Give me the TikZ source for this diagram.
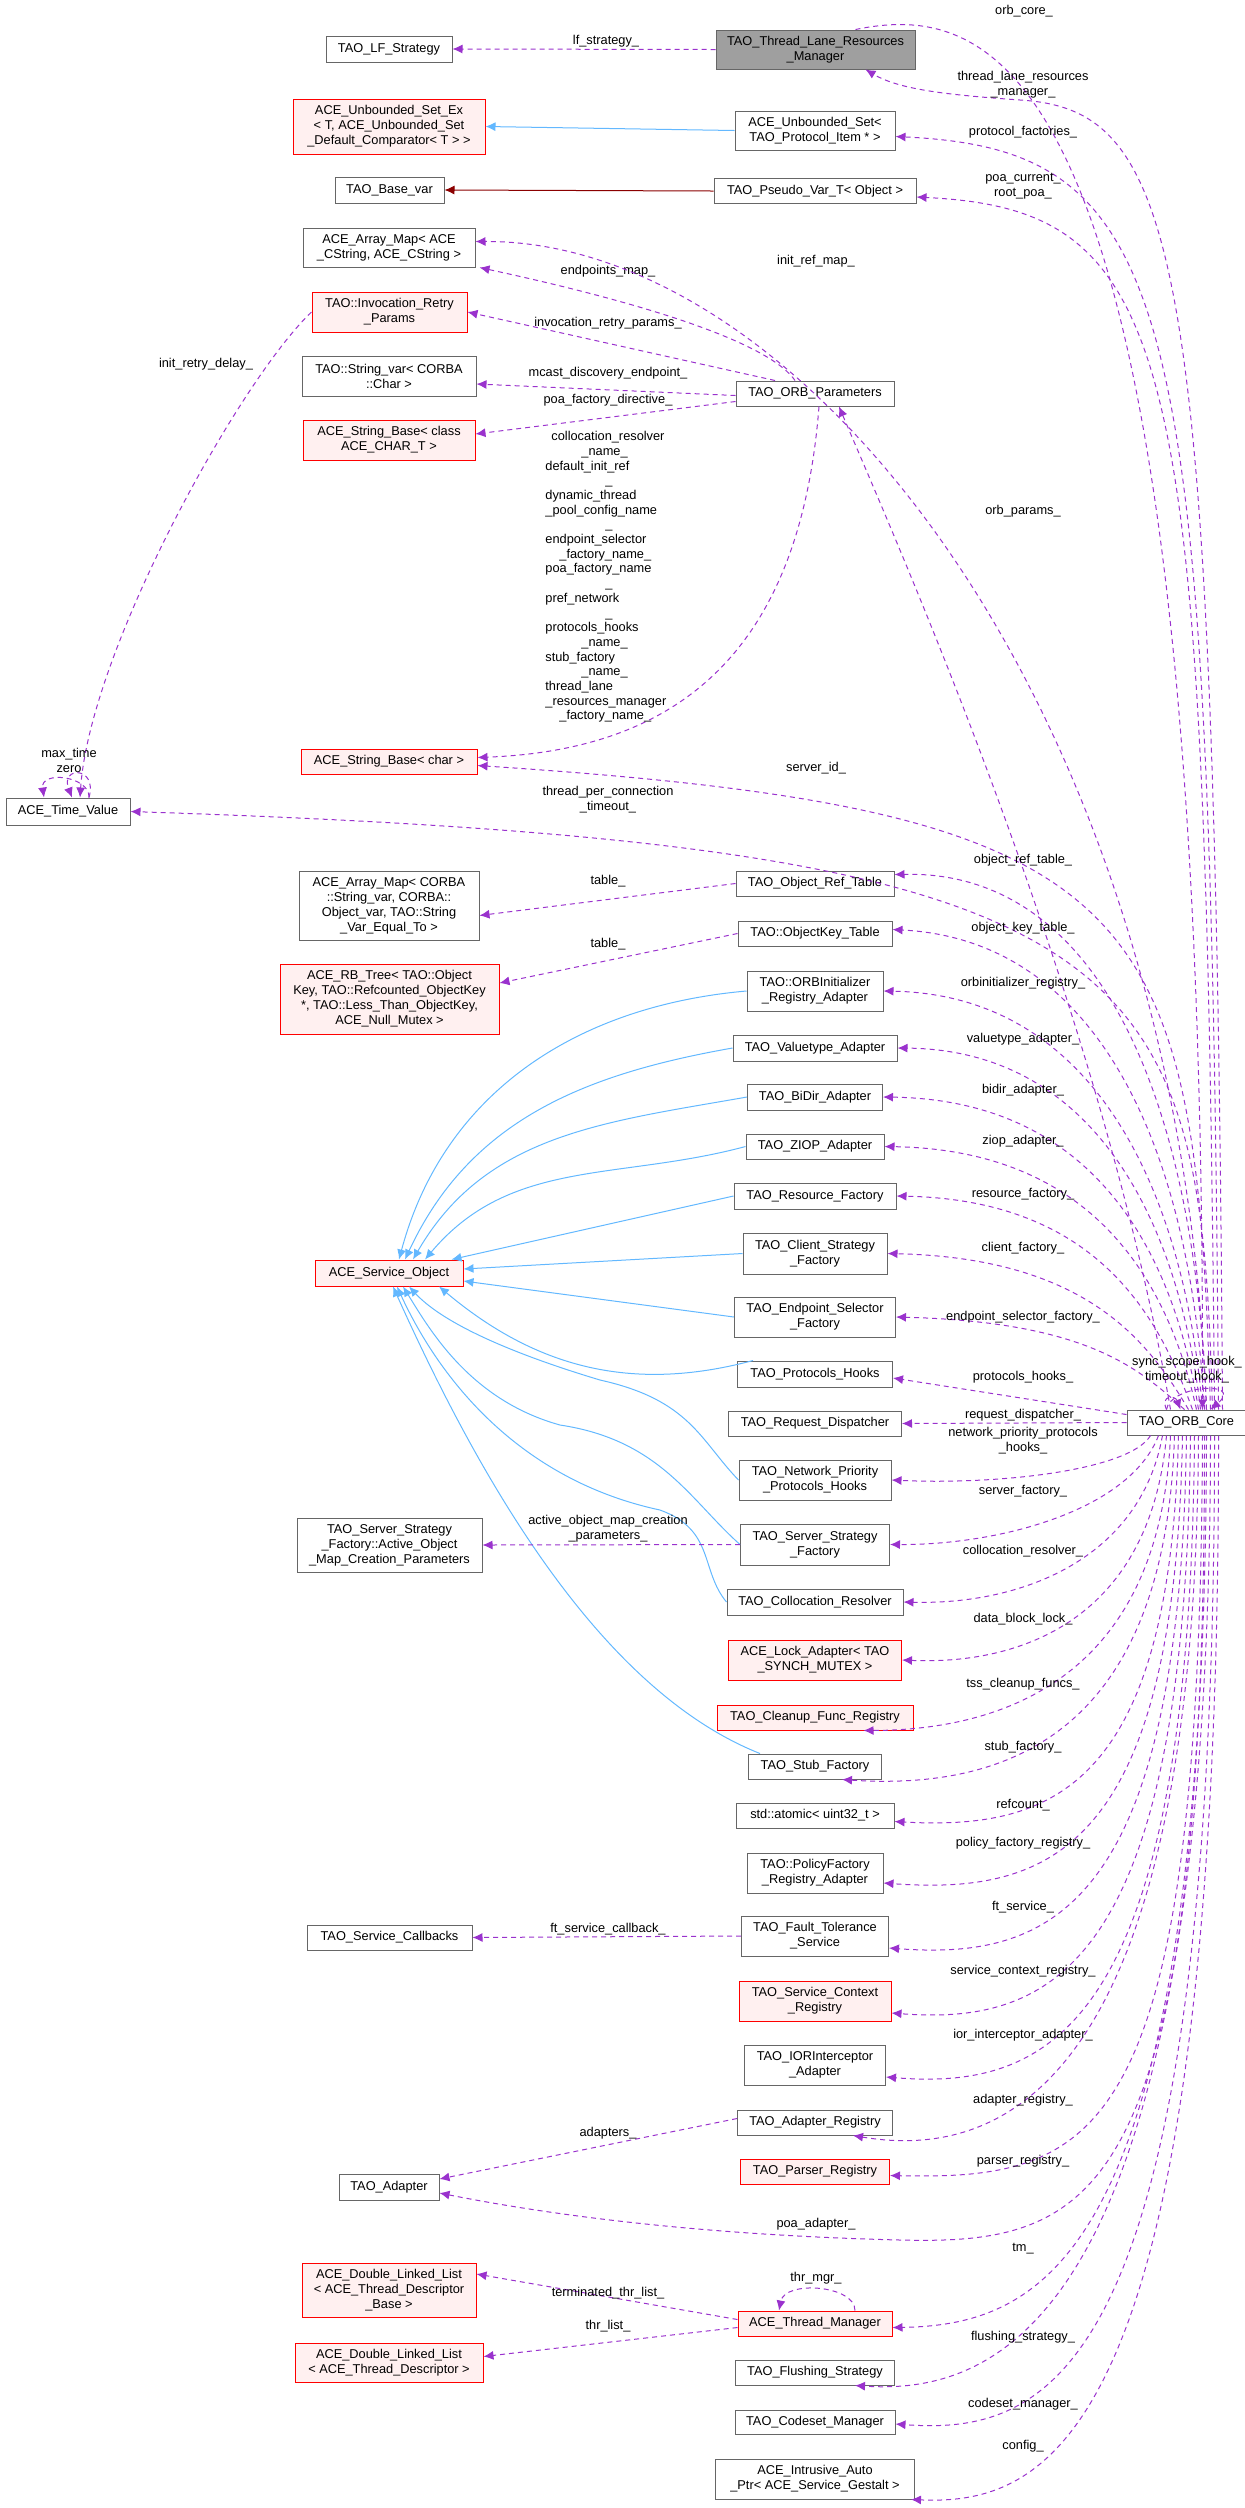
\documentclass[tikz,border=0pt]{standalone}
\usepackage{fontspec}
\setmainfont{Liberation Sans}
\usetikzlibrary{arrows.meta}
\definecolor{purp}{HTML}{9A32CD}
\definecolor{bl}{HTML}{63B8FF}
\definecolor{dred}{HTML}{8B0000}
\definecolor{gr6}{HTML}{666666}
\newcommand\mkbox[7]{\node[#6, minimum width=#4*0.5pt, minimum height=#5*0.5pt] (#1) at (#2,#3) {#7};}
\begin{document}
\begin{tikzpicture}[x=0.5pt,y=-0.5pt,
 box/.style={draw=gr6, line width=0.5pt, inner sep=0pt, align=center, font=\fontsize{6.4}{7.5}\selectfont, fill=white},
 rbox/.style={box, draw=red, fill=red!6},
 gbox/.style={box, fill=gray!75},
 dep/.style={draw=purp, line width=0.5pt, dash pattern=on 2.5pt off 2pt, -{Latex[length=5pt,width=4.5pt]}},
 inh/.style={draw=bl, line width=0.5pt, -{Latex[length=5pt,width=4.5pt]}},
 lbl/.style={font=\fontsize{6.4}{7.5}\selectfont, align=center, inner sep=0pt, text=black}]
\useasboundingbox (0,0) rectangle (1245,2508);
\mkbox{tlrm}{815.5}{49.5}{199}{39}{gbox}{TAO\_Thread\_Lane\_Resources\\\_Manager}
\mkbox{lf}{389}{49}{126}{26}{box}{TAO\_LF\_Strategy}
\mkbox{usex}{389}{126.5}{192}{55}{rbox}{ACE\_Unbounded\_Set\_Ex\\< T, ACE\_Unbounded\_Set\\\_Default\_Comparator< T > >}
\mkbox{us}{815}{130.5}{160}{39}{box}{ACE\_Unbounded\_Set<\\TAO\_Protocol\_Item * >}
\mkbox{basevar}{389.5}{190}{109}{26}{box}{TAO\_Base\_var}
\mkbox{pseudo}{815}{191}{202}{25}{box}{TAO\_Pseudo\_Var\_T< Object >}
\mkbox{amap1}{389}{247.5}{172}{39}{box}{ACE\_Array\_Map< ACE\\\_CString, ACE\_CString >}
\mkbox{irp}{389.5}{312}{155}{40}{rbox}{TAO::Invocation\_Retry\\\_Params}
\mkbox{svar}{389}{376}{174}{40}{box}{TAO::String\_var< CORBA\\::Char >}
\mkbox{orbp}{815}{393.5}{158}{25}{box}{TAO\_ORB\_Parameters}
\mkbox{sbclass}{389}{440}{172}{40}{rbox}{ACE\_String\_Base< class\\ACE\_CHAR\_T >}
\mkbox{sbchar}{389}{761.5}{176}{25}{rbox}{ACE\_String\_Base< char >}
\mkbox{tv}{68}{811.5}{124}{27}{box}{ACE\_Time\_Value}
\mkbox{amap2}{389}{905.5}{180}{69}{box}{ACE\_Array\_Map< CORBA\\::String\_var, CORBA::\\Object\_var, TAO::String\\\_Var\_Equal\_To >}
\mkbox{ort}{815}{883.5}{158}{25}{box}{TAO\_Object\_Ref\_Table}
\mkbox{okt}{815}{933.5}{154}{25}{box}{TAO::ObjectKey\_Table}
\mkbox{rbt}{389.5}{999}{219}{70}{rbox}{ACE\_RB\_Tree< TAO::Object\\Key, TAO::Refcounted\_ObjectKey\\*, TAO::Less\_Than\_ObjectKey,\\ACE\_Null\_Mutex >}
\mkbox{orbi}{815}{991}{136}{40}{box}{TAO::ORBInitializer\\\_Registry\_Adapter}
\mkbox{vt}{815}{1048}{164}{26}{box}{TAO\_Valuetype\_Adapter}
\mkbox{bidir}{815}{1097}{135}{26}{box}{TAO\_BiDir\_Adapter}
\mkbox{ziop}{815}{1146.5}{138}{25}{box}{TAO\_ZIOP\_Adapter}
\mkbox{rf}{815}{1196}{162}{26}{box}{TAO\_Resource\_Factory}
\mkbox{csf}{815}{1253.5}{144}{41}{box}{TAO\_Client\_Strategy\\\_Factory}
\mkbox{so}{389}{1273}{148}{26}{rbox}{ACE\_Service\_Object}
\mkbox{esf}{815}{1317}{161}{40}{box}{TAO\_Endpoint\_Selector\\\_Factory}
\mkbox{ph}{815}{1374}{155}{26}{box}{TAO\_Protocols\_Hooks}
\mkbox{rd}{815}{1423.5}{173}{25}{box}{TAO\_Request\_Dispatcher}
\mkbox{core}{1186.5}{1422.5}{119}{25}{box}{TAO\_ORB\_Core}
\mkbox{npph}{815}{1480}{152}{40}{box}{TAO\_Network\_Priority\\\_Protocols\_Hooks}
\mkbox{ssf}{815}{1544.5}{149}{41}{box}{TAO\_Server\_Strategy\\\_Factory}
\mkbox{aomp}{389.5}{1545}{185}{54}{box}{TAO\_Server\_Strategy\\\_Factory::Active\_Object\\\_Map\_Creation\_Parameters}
\mkbox{cr}{815}{1602}{176}{26}{box}{TAO\_Collocation\_Resolver}
\mkbox{la}{815}{1660}{173}{40}{rbox}{ACE\_Lock\_Adapter< TAO\\\_SYNCH\_MUTEX >}
\mkbox{cfr}{815}{1717.5}{196}{25}{rbox}{TAO\_Cleanup\_Func\_Registry}
\mkbox{stub}{815}{1766.5}{133}{25}{box}{TAO\_Stub\_Factory}
\mkbox{atomic}{815}{1815.5}{158}{25}{box}{std::atomic< uint32\_t >}
\mkbox{pfr}{815}{1873}{136}{40}{box}{TAO::PolicyFactory\\\_Registry\_Adapter}
\mkbox{fts}{815}{1936}{147}{40}{box}{TAO\_Fault\_Tolerance\\\_Service}
\mkbox{scb}{389.5}{1937.5}{165}{25}{box}{TAO\_Service\_Callbacks}
\mkbox{scr}{815}{2001}{152}{40}{rbox}{TAO\_Service\_Context\\\_Registry}
\mkbox{ior}{815}{2065}{141}{40}{box}{TAO\_IORInterceptor\\\_Adapter}
\mkbox{ar}{815}{2122.5}{155}{25}{box}{TAO\_Adapter\_Registry}
\mkbox{pr}{815}{2171.5}{149}{25}{rbox}{TAO\_Parser\_Registry}
\mkbox{ad}{389}{2187}{100}{26}{box}{TAO\_Adapter}
\mkbox{dllb}{389}{2290}{174}{54}{rbox}{ACE\_Double\_Linked\_List\\< ACE\_Thread\_Descriptor\\\_Base >}
\mkbox{tm}{815}{2323.5}{154}{25}{rbox}{ACE\_Thread\_Manager}
\mkbox{dlld}{389}{2362.5}{188}{39}{rbox}{ACE\_Double\_Linked\_List\\< ACE\_Thread\_Descriptor >}
\mkbox{fs}{815}{2372.5}{159}{25}{box}{TAO\_Flushing\_Strategy}
\mkbox{cm}{815}{2422}{160}{24}{box}{TAO\_Codeset\_Manager}
\mkbox{iap}{815}{2479}{199}{40}{box}{ACE\_Intrusive\_Auto\\\_Ptr< ACE\_Service\_Gestalt >}

% inheritance
\draw[inh] (us.west) -- (usex.east);
\draw[draw=dred, line width=0.5pt, -{Latex[length=5pt,width=4.5pt]}] (pseudo.west) -- (basevar.east);
\draw[inh] (orbi.west) to[out=185,in=75] ([xshift=5pt]so.north);
\draw[inh] (vt.west) to[out=190,in=65] ([xshift=8pt]so.north);
\draw[inh] (bidir.west) to[out=190,in=60] ([xshift=12pt]so.north);
\draw[inh] (ziop.west) to[out=195,in=50] ([xshift=18pt]so.north);
\draw[inh] (rf.west) -- ([xshift=-6pt]so.north east);
\draw[inh] (csf.west) -- ([yshift=2pt]so.east);
\draw[inh] (esf.west) -- ([yshift=-4pt]so.east);
\draw[inh] ([xshift=8pt]ph.north west) to[out=195,in=-40] ([xshift=25pt]so.south);
\draw[inh] (npph.west) .. controls (700,1440) and (690,1400) .. (600,1380) .. controls (500,1350) and (440,1320) .. ([xshift=10pt]so.south);
\draw[inh] (ssf.west) .. controls (690,1500) and (660,1440) .. (560,1425) .. controls (470,1400) and (430,1330) .. ([xshift=7pt]so.south);
\draw[inh] (cr.west) .. controls (700,1570) and (715,1530) .. (660,1510) .. controls (520,1480) and (440,1380) .. ([xshift=4pt]so.south);
\draw[inh] ([xshift=6pt]stub.north west) .. controls (600,1690) and (480,1480) .. ([xshift=2pt]so.south);

% ORB_Parameters edges
\draw[dep] (tlrm.west) -- (lf.east) node[lbl, at={(606,41)}] {lf\_strategy\_};
\draw[dep] ([xshift=-10pt]orbp.north) .. controls (760,330) and (560,285) .. ([xshift=2pt]amap1.south east) node[lbl, at={(608,271)}] {endpoints\_map\_};
\draw[dep] ([xshift=-20pt]orbp.north) -- (irp.east) node[lbl, at={(608,323)}] {invocation\_retry\_params\_};
\draw[dep] ([yshift=-1pt]orbp.west) -- ([yshift=-4pt]svar.east) node[lbl, at={(608,373)}] {mcast\_discovery\_endpoint\_};
\draw[dep] ([yshift=-4pt]orbp.west) -- ([yshift=3pt]sbclass.east) node[lbl, at={(608,400)}] {poa\_factory\_directive\_};
\draw[dep] ([xshift=2pt]orbp.south) .. controls (800,650) and (680,750) .. ([yshift=2pt]sbchar.east);
\node[lbl, anchor=north west, align=left, font=\fontsize{6.4}{7.35}\selectfont] (biglbl) at (545,431) {\hspace*{3pt}collocation\_resolver\\\hspace*{18pt}\_name\_\\default\_init\_ref\\\hspace*{30pt}\_\\dynamic\_thread\\\_pool\_config\_name\\\hspace*{30pt}\_\\endpoint\_selector\\\hspace*{7pt}\_factory\_name\_\\poa\_factory\_name\\\hspace*{30pt}\_\\pref\_network\\\hspace*{30pt}\_\\protocols\_hooks\\\hspace*{18pt}\_name\_\\stub\_factory\\\hspace*{18pt}\_name\_\\thread\_lane\\\_resources\_manager\\\hspace*{7pt}\_factory\_name\_};
\draw[dep] (irp.west) .. controls (240,380) and (90,650) .. ([xshift=6pt]tv.north) node[lbl, at={(206,364)}] {init\_retry\_delay\_};
\draw[dep] ([xshift=10.5pt]tv.north) .. controls (98,766) and (60,766) .. ([xshift=2pt]tv.north);
\draw[dep] ([xshift=10.5pt]tv.north) .. controls (90,776) and (40,770) .. ([xshift=-12pt]tv.north);
\node[lbl] (tvl) at (69,760) {max\_time\\zero};

% other left edges
\draw[dep] (ort.west) -- ([yshift=-5pt]amap2.east) node[lbl, at={(608,881)}] {table\_};
\draw[dep] (okt.west) -- ([yshift=8pt]rbt.east) node[lbl, at={(608,944)}] {table\_};
\draw[dep] (ssf.west) -- (aomp.east) node[lbl, at={(608,1529)}] {active\_object\_map\_creation\\\_parameters\_};
\draw[dep] (fts.west) -- (scb.east) node[lbl, at={(608,1929)}] {ft\_service\_callback\_};
\draw[dep] ([yshift=2pt]ar.west) -- ([yshift=4pt]ad.east) node[lbl, at={(608,2133)}] {adapters\_};
\draw[dep] ([yshift=2pt]tm.west) -- ([yshift=8pt]dllb.east) node[lbl, at={(608,2293)}] {terminated\_thr\_list\_};
\draw[dep] ([yshift=-2pt]tm.west) -- ([yshift=3pt]dlld.east) node[lbl, at={(608,2326)}] {thr\_list\_};
\draw[dep] ([xshift=20pt]tm.north) .. controls (855,2285) and (785,2280) .. ([xshift=-18pt]tm.north);
\node[lbl] (tml) at (816,2278) {thr\_mgr\_};

% ORB_Core upward edges
\draw[dep] ([xshift=-30pt]tlrm.north east) .. controls (1000,0) and (1205,60) .. ([xshift=8pt]core.north) node[lbl, at={(1024,11)}] {orb\_core\_};
\draw[dep] ([xshift=18pt]core.north) .. controls (1215,250) and (1180,110) .. (1020,100) .. controls (950,95) and (900,90) .. ([xshift=25pt]tlrm.south) node[lbl, at={(1023,85)}] {thread\_lane\_resources\\\_manager\_};
\draw[dep] ([xshift=16pt]core.north) .. controls (1210,300) and (1180,150) .. ([yshift=-3pt]us.east) node[lbl, at={(1023,132)}] {protocol\_factories\_};
\draw[dep] ([xshift=14pt]core.north) .. controls (1205,350) and (1180,210) .. ([yshift=-3pt]pseudo.east) node[lbl, at={(1023,186)}] {poa\_current\_\\root\_poa\_};
\draw[dep] ([xshift=10pt]core.north) .. controls (1180,700) and (800,240) .. ([yshift=3pt]amap1.east) node[lbl, at={(816,261)}] {init\_ref\_map\_};
\draw[dep] ([xshift=-8pt]core.north) .. controls (1100,1000) and (900,550) .. ([xshift=12pt]orbp.south) node[lbl, at={(1023,511)}] {orb\_params\_};
\draw[dep] ([xshift=12pt]core.north) .. controls (1195,900) and (1150,810) .. ([yshift=-2pt]sbchar.east) node[lbl, at={(816,768)}] {server\_id\_};
\draw[dep] ([xshift=13pt]core.north) .. controls (1200,950) and (1150,845) .. (tv.east) node[lbl, at={(608,800)}] {thread\_per\_connection\\\_timeout\_};
\draw[dep] ([xshift=10pt]core.north) .. controls (1195,1100) and (1100,870) .. ([yshift=-2pt]ort.north east) node[lbl, at={(1023,860)}] {object\_ref\_table\_};
\draw[dep] ([xshift=9pt]core.north) .. controls (1190,1150) and (1100,940) .. ([yshift=2pt]okt.east) node[lbl, at={(1023,928)}] {object\_key\_table\_};
\draw[dep] ([xshift=8pt]core.north) .. controls (1185,1200) and (1100,995) .. (orbi.east) node[lbl, at={(1023,983)}] {orbinitializer\_registry\_};
\draw[dep] ([xshift=7pt]core.north) .. controls (1180,1230) and (1100,1050) .. (vt.east) node[lbl, at={(1023,1039)}] {valuetype\_adapter\_};
\draw[dep] ([xshift=6pt]core.north) .. controls (1175,1260) and (1100,1100) .. (bidir.east) node[lbl, at={(1023,1090)}] {bidir\_adapter\_};
\draw[dep] ([xshift=5pt]core.north) .. controls (1170,1290) and (1100,1150) .. (ziop.east) node[lbl, at={(1023,1141)}] {ziop\_adapter\_};
\draw[dep] ([xshift=3pt]core.north) .. controls (1160,1320) and (1100,1200) .. (rf.east) node[lbl, at={(1023,1194)}] {resource\_factory\_};
\draw[dep] ([xshift=1pt]core.north) .. controls (1150,1345) and (1090,1258) .. (csf.east) node[lbl, at={(1023,1248)}] {client\_factory\_};
\draw[dep] ([xshift=-1pt]core.north) .. controls (1140,1370) and (1090,1322) .. (esf.east) node[lbl, at={(1023,1317)}] {endpoint\_selector\_factory\_};
\draw[dep] ([yshift=4pt]core.west) -- ([yshift=-2pt]ph.east) node[lbl, at={(1023,1377)}] {protocols\_hooks\_};
\draw[dep] (core.west) -- (rd.east) node[lbl, at={(1023,1415)}] {request\_dispatcher\_};
\draw[dep] ([xshift=-10pt]core.north) .. controls (1170,1385) and (1245,1380) .. ([xshift=12pt]core.north);
\draw[dep] ([xshift=-10pt]core.north) .. controls (1160,1395) and (1175,1395) .. ([xshift=-3pt]core.north);
\node[lbl] (hk) at (1187,1370) {sync\_scope\_hook\_\\timeout\_hook\_};

% ORB_Core downward edges
\draw[dep] ([xshift=-18pt]core.south) .. controls (1130,1470) and (1000,1485) .. (npph.east) node[lbl, at={(1023,1441)}] {network\_priority\_protocols\\\_hooks\_};
\draw[dep] ([xshift=-14pt]core.south) .. controls (1130,1510) and (1000,1545) .. (ssf.east) node[lbl, at={(1023,1491)}] {server\_factory\_};
\draw[dep] ([xshift=-12pt]core.south) .. controls (1140,1560) and (1020,1605) .. (cr.east) node[lbl, at={(1023,1551)}] {collocation\_resolver\_};
\draw[dep] ([xshift=-10pt]core.south) .. controls (1150,1620) and (1020,1665) .. (la.east) node[lbl, at={(1023,1619)}] {data\_block\_lock\_};
\draw[dep] ([xshift=-8pt]core.south) .. controls (1160,1680) and (1000,1730) .. ([xshift=-25pt]cfr.south east) node[lbl, at={(1023,1684)}] {tss\_cleanup\_funcs\_};
\draw[dep] ([xshift=-6pt]core.south) .. controls (1165,1740) and (1000,1790) .. ([xshift=-20pt]stub.south east) node[lbl, at={(1023,1747)}] {stub\_factory\_};
\draw[dep] ([xshift=-4pt]core.south) .. controls (1170,1790) and (1050,1830) .. ([yshift=-3pt]atomic.east) node[lbl, at={(1023,1805)}] {refcount\_};
\draw[dep] ([xshift=-2pt]core.south) .. controls (1175,1850) and (1050,1895) .. ([yshift=-5pt]pfr.east) node[lbl, at={(1023,1843)}] {policy\_factory\_registry\_};
\draw[dep] (core.south) .. controls (1180,1910) and (1050,1960) .. ([yshift=-6pt]fts.east) node[lbl, at={(1023,1907)}] {ft\_service\_};
\draw[dep] ([xshift=2pt]core.south) .. controls (1185,1970) and (1050,2025) .. ([yshift=-6pt]scr.east) node[lbl, at={(1023,1971)}] {service\_context\_registry\_};
\draw[dep] ([xshift=4pt]core.south) .. controls (1190,2030) and (1050,2090) .. ([yshift=-6pt]ior.east) node[lbl, at={(1023,2035)}] {ior\_interceptor\_adapter\_};
\draw[dep] ([xshift=6pt]core.south) .. controls (1195,2090) and (1000,2160) .. ([xshift=-20pt]ar.south east) node[lbl, at={(1023,2100)}] {adapter\_registry\_};
\draw[dep] ([xshift=8pt]core.south) .. controls (1200,2140) and (1100,2180) .. ([yshift=-2pt]pr.east) node[lbl, at={(1023,2161)}] {parser\_registry\_};
\draw[dep] ([xshift=9pt]core.south) .. controls (1205,2200) and (1100,2245) .. (900,2240) .. controls (700,2235) and (550,2215) .. ([yshift=-3pt]ad.east) node[lbl, at={(816,2224)}] {poa\_adapter\_};
\draw[dep] ([xshift=10pt]core.south) .. controls (1205,2250) and (1050,2325) .. ([yshift=-2pt]tm.east) node[lbl, at={(1023,2249)}] {tm\_};
\draw[dep] ([xshift=12pt]core.south) .. controls (1210,2320) and (1000,2395) .. ([xshift=-20pt]fs.south east) node[lbl, at={(1023,2337)}] {flushing\_strategy\_};
\draw[dep] ([xshift=14pt]core.south) .. controls (1215,2380) and (1050,2435) .. ([yshift=-1pt]cm.east) node[lbl, at={(1023,2404)}] {codeset\_manager\_};
\draw[dep] ([xshift=16pt]core.south) .. controls (1220,2440) and (1050,2505) .. ([xshift=-2pt]iap.south east) node[lbl, at={(1023,2446)}] {config\_};
\end{tikzpicture}
\end{document}
